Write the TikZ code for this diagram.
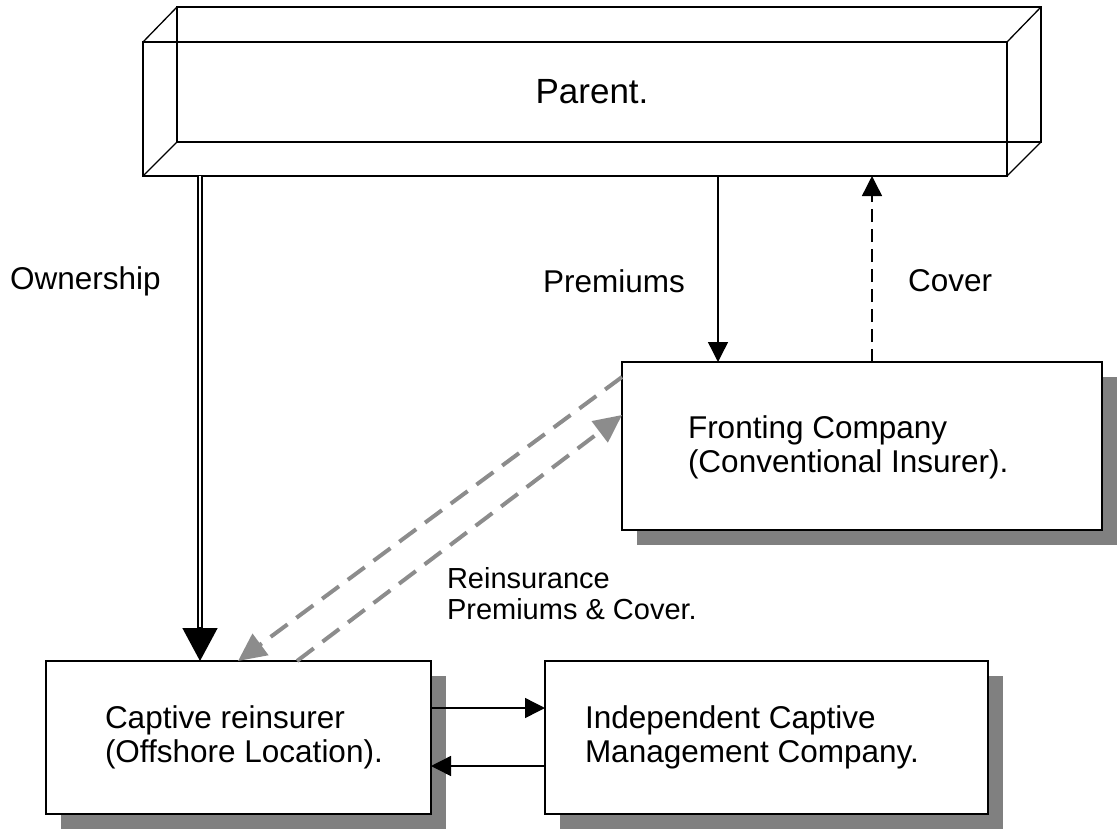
\documentclass[tikz,border=0pt]{standalone}
\usepackage{fontspec}
\setmainfont{Liberation Sans}
\usetikzlibrary{arrows.meta,shadows,calc}
\definecolor{shadowgray}{HTML}{808080}
\definecolor{linkgray}{HTML}{8C8C8C}
\begin{document}
\begin{tikzpicture}[x=1pt,y=-1pt,
  every node/.style={inner sep=0pt, outer sep=0pt},
  txt/.style={font=\fontsize{31.5}{34}\selectfont, align=left, anchor=west},
  smalltxt/.style={font=\fontsize{29}{31}\selectfont, align=left, anchor=west},
  shadowbox/.style={draw, line width=1.8pt, fill=white, rectangle, anchor=north west,
    drop shadow={shadow xshift=15pt, shadow yshift=-15pt, fill=shadowgray, opacity=1}},
  face/.style={line width=1.3pt},
  flow/.style={line width=1.4pt, -{Triangle[length=20pt,width=20pt]}},
  coverflow/.style={flow, dash pattern=on 13pt off 7pt},
  reins/.style={line width=4pt, linkgray, dash pattern=on 21pt off 11pt,
    -{Triangle[length=28pt,width=26pt]}},
  own/.style={line width=2.2pt, double, double distance=2.2pt},
]
\useasboundingbox (0,0) rectangle (1119,830);

% Parent: wireframe block (front face is the node, back face drawn behind)
\draw[face] (177,7) rectangle (1041,142);
\node[draw, face, rectangle, anchor=north west, minimum width=864pt, minimum height=134pt]
  (parent) at (143,42) {};
\draw[face] (143,42) -- (177,7) (1007,42) -- (1041,7)
            (143,176) -- (177,142) (1007,176) -- (1041,142);
\node[font=\fontsize{35}{40}\selectfont] (ptext) at (592,92) {Parent.};

% Company boxes with drop shadows
\node[shadowbox, minimum width=480pt, minimum height=168pt] (fro) at (622,362) {};
\node[shadowbox, minimum width=385pt, minimum height=153pt] (cap) at (46,661) {};
\node[shadowbox, minimum width=443pt, minimum height=153pt] (ind) at (545,661) {};

\node[txt] (frotext) at (688,447) {Fronting Company\\(Conventional Insurer).};
\node[txt] (captext) at (105,737) {Captive reinsurer\\(Offshore Location).};
\node[txt] (indtext) at (585,737) {Independent Captive\\Management Company.};

% Flow labels
\node[txt] (lown) at (10,281) {Ownership};
\node[txt] (lprem) at (543,281) {Premiums};
\node[txt] (lcover) at (908,281) {Cover};
\node[smalltxt] (lreins) at (447,594) {Reinsurance\\Premiums \& Cover.};

% Ownership: double shaft with a large solid head
\coordinate (o1) at (parent.south -| 200,0);
\coordinate (o2) at (cap.north -| 200,0);
\draw[own, shorten >=31pt] (o1) -- (o2);
\draw[line width=1.5pt, -{Triangle[length=33pt,width=35pt]}] ($(o2)+(0,-34)$) -- (o2);

% Premiums and cover between parent and fronting company
\draw[flow] (parent.south -| 718,0) -- (fro.north -| 718,0);
\draw[coverflow] (fro.north -| 872,0) -- (parent.south -| 872,0);

% Reinsurance premiums and cover
\draw[reins] (fro.west |- 0,377) -- (cap.north -| 238,0);
\draw[reins] (cap.north -| 297,0) -- (fro.west |- 0,415);

% Captive and management company
\draw[flow] (cap.east |- 0,708) -- (ind.west |- 0,708);
\draw[flow] (ind.west |- 0,766) -- (cap.east |- 0,766);
\end{tikzpicture}
\end{document}
